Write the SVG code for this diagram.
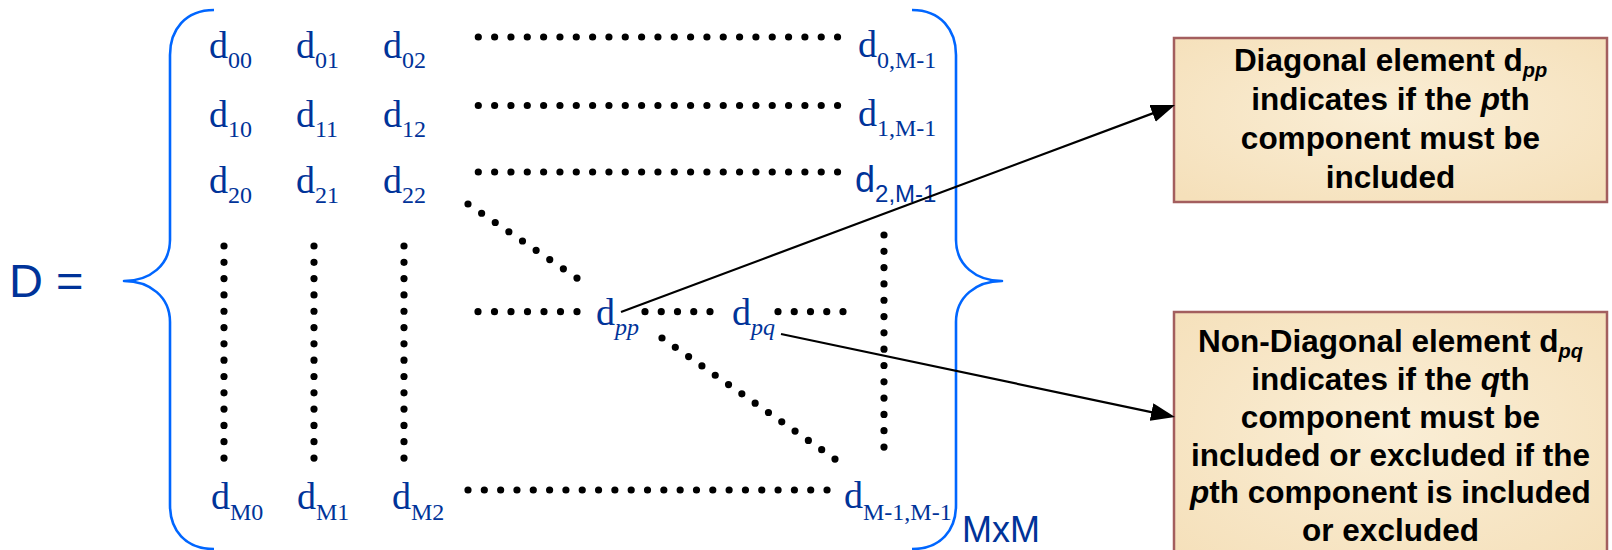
<svg xmlns="http://www.w3.org/2000/svg" width="1612" height="550" viewBox="0 0 1612 550">
<defs>
<style>
.m{font-family:"Liberation Serif","Times New Roman",serif;font-size:38px;fill:#003399}
.ms{font-family:"Liberation Sans",Arial,sans-serif;font-size:36px;fill:#003399}
.sub{font-size:24px}
.it{font-style:italic}
.lab{font-family:"Liberation Sans",Arial,sans-serif;fill:#003399}
.brace{fill:none;stroke:#0066ff;stroke-width:2.6;stroke-linejoin:round}
.dots{fill:none;stroke:#000;stroke-width:7.2;stroke-linecap:round}
.conn{fill:none;stroke:#000;stroke-width:2.2}
.box{fill:#f8e7c6;stroke:#a35e5e;stroke-width:2.5}
.bt{font-family:"Liberation Sans",Arial,sans-serif;font-size:31.5px;font-weight:bold;fill:#000;text-anchor:middle}
.bs{font-size:20px;font-style:italic}
</style>
<marker id="ah" viewBox="0 0 24 18" refX="18" refY="9" markerWidth="24" markerHeight="18" markerUnits="userSpaceOnUse" orient="auto">
<path d="M0,0 L24,9 L0,18 Z" fill="#000"/>
</marker>
<radialGradient id="parch" cx="50%" cy="45%" r="70%">
<stop offset="0" stop-color="#faeed6"/>
<stop offset="1" stop-color="#f5e0ba"/>
</radialGradient>
</defs>

<g id="D-label">
<text class="lab" x="9" y="297" font-size="47">D =</text>
</g>

<g id="left-brace">
<path class="brace" d="M214,10 C185,10 170,30 170,55 L170,240 C170,265 150,281 124,281 C150,281 170,297 170,322 L170,505 C170,530 185,549 214,549"/>
</g>
<g id="right-brace">
<path class="brace" d="M912,10 C941,10 956,30 956,55 L956,240 C956,265 976,281 1002,281 C976,281 956,297 956,322 L956,505 C956,530 941,549 912,549"/>
</g>

<g id="dots">
<line class="dots" x1="478.3" y1="37" x2="838.5" y2="37" stroke-dasharray="0 16.33"/>
<line class="dots" x1="478.3" y1="105.5" x2="838.5" y2="105.5" stroke-dasharray="0 16.33"/>
<line class="dots" x1="478.3" y1="172" x2="838.5" y2="172" stroke-dasharray="0 16.33"/>
<line class="dots" x1="468" y1="490" x2="828" y2="490" stroke-dasharray="0 16.32"/>
<line class="dots" x1="468" y1="204" x2="577.8" y2="278.6" stroke-dasharray="0 16.47"/>
<line class="dots" x1="478" y1="311.7" x2="578" y2="311.7" stroke-dasharray="0 16.5"/>
<line class="dots" x1="645" y1="311.7" x2="711" y2="311.7" stroke-dasharray="0 16.25"/>
<line class="dots" x1="778" y1="311.7" x2="844" y2="311.7" stroke-dasharray="0 16.25"/>
<line class="dots" x1="662" y1="338" x2="835.8" y2="459.6" stroke-dasharray="0 16.24"/>
<line class="dots" x1="224" y1="246" x2="224" y2="459" stroke-dasharray="0 16.31"/>
<line class="dots" x1="314" y1="246" x2="314" y2="459" stroke-dasharray="0 16.31"/>
<line class="dots" x1="404" y1="246" x2="404" y2="459" stroke-dasharray="0 16.31"/>
<line class="dots" x1="884" y1="235" x2="884" y2="448" stroke-dasharray="0 16.31"/>
</g>

<g id="entries">
<g id="d00"><text class="m" x="209" y="58">d<tspan class="sub" dy="10">00</tspan></text></g>
<g id="d01"><text class="m" x="296" y="58">d<tspan class="sub" dy="10">01</tspan></text></g>
<g id="d02"><text class="m" x="383" y="58">d<tspan class="sub" dy="10">02</tspan></text></g>
<g id="d0M"><text class="m" x="858" y="57">d<tspan class="sub" dy="11">0,M-1</tspan></text></g>
<g id="d10"><text class="m" x="209" y="127">d<tspan class="sub" dy="10">10</tspan></text></g>
<g id="d11"><text class="m" x="296" y="127">d<tspan class="sub" dy="10">11</tspan></text></g>
<g id="d12"><text class="m" x="383" y="127">d<tspan class="sub" dy="10">12</tspan></text></g>
<g id="d1M"><text class="m" x="858" y="126">d<tspan class="sub" dy="10">1,M-1</tspan></text></g>
<g id="d20"><text class="m" x="209" y="193">d<tspan class="sub" dy="10">20</tspan></text></g>
<g id="d21"><text class="m" x="296" y="193">d<tspan class="sub" dy="10">21</tspan></text></g>
<g id="d22"><text class="m" x="383" y="193">d<tspan class="sub" dy="10">22</tspan></text></g>
<g id="d2M"><text class="ms" x="855" y="192">d<tspan class="sub" dy="10">2,M-1</tspan></text></g>
<g id="dM0"><text class="m" x="211" y="509">d<tspan class="sub" dy="11">M0</tspan></text></g>
<g id="dM1"><text class="m" x="297" y="509">d<tspan class="sub" dy="11">M1</tspan></text></g>
<g id="dM2"><text class="m" x="392" y="509">d<tspan class="sub" dy="11">M2</tspan></text></g>
<g id="dMM"><text class="m" x="844" y="508">d<tspan class="sub" dy="12">M-1,M-1</tspan></text></g>
<g id="dpp"><text class="m" x="596" y="325">d<tspan class="sub it" dy="10">pp</tspan></text></g>
<g id="dpq"><text class="m" x="732" y="325">d<tspan class="sub it" dy="10">pq</tspan></text></g>
</g>

<g id="size-label">
<text class="lab" x="962" y="542" font-size="36">MxM</text>
</g>

<g id="box-diagonal">
<rect class="box" x="1174" y="38" width="433" height="164" style="fill:url(#parch)"/>
<text class="bt" x="1390.5" y="71">Diagonal element d<tspan class="bs" dy="6">pp</tspan></text>
<text class="bt" x="1390.5" y="110">indicates if the <tspan font-style="italic">p</tspan>th</text>
<text class="bt" x="1390.5" y="149">component must be</text>
<text class="bt" x="1390.5" y="188">included</text>
</g>

<g id="box-nondiagonal">
<rect class="box" x="1174" y="312" width="433" height="260" style="fill:url(#parch)"/>
<text class="bt" x="1390.5" y="352">Non-Diagonal element d<tspan class="bs" dy="6">pq</tspan></text>
<text class="bt" x="1390.5" y="390">indicates if the <tspan font-style="italic">q</tspan>th</text>
<text class="bt" x="1390.5" y="428">component must be</text>
<text class="bt" x="1390.5" y="465.5">included or excluded if the</text>
<text class="bt" x="1390.5" y="503"><tspan font-style="italic">p</tspan>th component is included</text>
<text class="bt" x="1390.5" y="540.5">or excluded</text>
</g>

<g id="connectors">
<line class="conn" x1="621" y1="312" x2="1169.4" y2="107.1" marker-end="url(#ah)"/>
<line class="conn" x1="781" y1="334" x2="1169.1" y2="415.8" marker-end="url(#ah)"/>
</g>
</svg>
